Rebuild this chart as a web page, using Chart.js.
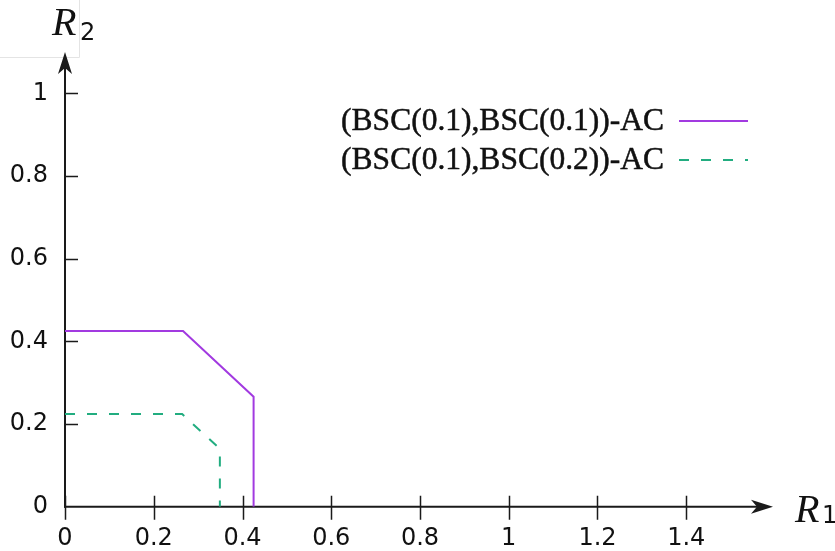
<!DOCTYPE html>
<html>
<head>
<meta charset="utf-8">
<script src="https://cdn.jsdelivr.net/npm/chart.js@4"></script>
<style>
  html, body { margin: 0; padding: 0; background: #fff; }
  canvas { display: block; }
</style>
</head>
<body>
<canvas id="regionChart" width="835" height="551"></canvas>
<script>
// tick labels
const r1Ticks = [0, 0.2, 0.4, 0.6, 0.8, 1, 1.2, 1.4];
const r2Ticks = [0, 0.2, 0.4, 0.6, 0.8, 1];

// series
const seriesLabels = ['(BSC(0.1),BSC(0.1))-AC', '(BSC(0.1),BSC(0.2))-AC'];
const acSameR1 = [0, 0.266, 0.425, 0.425];
const acSameR2 = [0.425, 0.425, 0.266, 0];
const acDiffR1 = [0, 0.264, 0.349, 0.349];
const acDiffR2 = [0.224, 0.224, 0.14, 0];

const toPoints = (xs, ys) => xs.map((v, i) => ({ x: v, y: ys[i] }));

// axes with arrows, inward ticks, R1/R2 labels and the legend on the right
const axisDecor = {
  id: 'axisDecor',
  beforeDatasetsDraw(chart) {
    const { ctx, chartArea: a, scales: { x, y } } = chart;
    const x0 = x.getPixelForValue(0);
    const y0 = y.getPixelForValue(0);
    ctx.save();

    // faint frame line near the R2 label
    ctx.strokeStyle = '#e4e4e4';
    ctx.lineWidth = 1;
    ctx.beginPath();
    ctx.moveTo(0, 57.5); ctx.lineTo(79.5, 57.5); ctx.lineTo(79.5, 0);
    ctx.stroke();

    ctx.strokeStyle = '#1a1a1a';
    ctx.fillStyle = '#1a1a1a';
    ctx.lineWidth = 2;

    // x axis
    const xTip = a.right - 2;
    ctx.beginPath();
    ctx.moveTo(x0 - 1, y0); ctx.lineTo(xTip - 12, y0);
    ctx.stroke();
    ctx.beginPath();
    ctx.moveTo(xTip, y0);
    ctx.lineTo(xTip - 22, y0 - 7);
    ctx.lineTo(xTip - 16, y0);
    ctx.lineTo(xTip - 22, y0 + 7);
    ctx.closePath();
    ctx.fill();

    // y axis
    const yTip = a.top;
    ctx.beginPath();
    ctx.moveTo(x0, y0 + 1); ctx.lineTo(x0, yTip + 12);
    ctx.stroke();
    ctx.beginPath();
    ctx.moveTo(x0, yTip);
    ctx.lineTo(x0 - 7, yTip + 22);
    ctx.lineTo(x0, yTip + 16);
    ctx.lineTo(x0 + 7, yTip + 22);
    ctx.closePath();
    ctx.fill();

    // tick marks
    ctx.lineWidth = 1.5;
    ctx.beginPath();
    r1Ticks.forEach(v => {
      const px = Math.round(x.getPixelForValue(v)) + 0.5;
      ctx.moveTo(px, y0 - 11); ctx.lineTo(px, y0 + 13);
    });
    r2Ticks.forEach(v => {
      if (v === 0) return;
      const py = Math.round(y.getPixelForValue(v)) + 0.5;
      ctx.moveTo(x0, py); ctx.lineTo(x0 + 13, py);
    });
    ctx.stroke();
    ctx.restore();
  },
  afterDraw(chart) {
    const { ctx } = chart;
    ctx.save();
    ctx.fillStyle = '#111';
    ctx.textBaseline = 'alphabetic';

    // axis names
    ctx.textAlign = 'left';
    ctx.font = 'italic 40px "Liberation Serif"';
    ctx.fillText('R', 52, 35);
    ctx.fillText('R', 795, 522);
    ctx.font = '24px "DejaVu Sans"';
    ctx.fillText('2', 80, 40);
    ctx.fillText('1', 822, 523);

    // legend: text on the left, line sample on the right
    ctx.font = '31.5px "Liberation Serif"';
    ctx.textAlign = 'right';
    ctx.textBaseline = 'middle';
    ctx.lineWidth = 0.5;
    chart.data.datasets.forEach((ds, i) => {
      const yy = 121 + i * 39;
      ctx.fillStyle = '#111';
      ctx.strokeStyle = '#111';
      ctx.setLineDash([]);
      ctx.fillText(ds.label, 664, yy + 1);
      ctx.strokeText(ds.label, 664, yy + 1);
      ctx.save();
      ctx.strokeStyle = ds.borderColor;
      ctx.lineWidth = ds.borderWidth;
      ctx.setLineDash(ds.borderDash || []);
      ctx.beginPath();
      ctx.moveTo(679, yy); ctx.lineTo(748, yy);
      ctx.stroke();
      ctx.restore();
    });
    ctx.restore();
  }
};

const ctx = document.getElementById('regionChart').getContext('2d');
new Chart(ctx, {
  type: 'scatter',
  data: {
    datasets: [
      {
        label: seriesLabels[0],
        data: toPoints(acSameR1, acSameR2),
        showLine: true,
        borderColor: '#a23ae0',
        borderWidth: 2,
        pointRadius: 0,
        tension: 0
      },
      {
        label: seriesLabels[1],
        data: toPoints(acDiffR1, acDiffR2),
        showLine: true,
        borderColor: '#22ad80',
        borderWidth: 2,
        borderDash: [10, 12],
        pointRadius: 0,
        tension: 0
      }
    ]
  },
  options: {
    responsive: false,
    devicePixelRatio: 1,
    animation: false,
    layout: { padding: { top: 52, right: 60, left: 0, bottom: 0 } },
    plugins: {
      legend: { display: false },
      tooltip: { enabled: false }
    },
    scales: {
      x: {
        type: 'linear',
        min: 0,
        max: 1.6,
        border: { display: false },
        grid: { display: false, drawTicks: false },
        afterBuildTicks: s => { s.ticks = r1Ticks.map(v => ({ value: v })); },
        afterFit: s => { s.height = 44.3; },
        ticks: {
          padding: 18,
          maxRotation: 0,
          autoSkip: false,
          color: '#111',
          font: { family: '"DejaVu Sans"', size: 24 },
          callback: v => String(v)
        }
      },
      y: {
        type: 'linear',
        min: 0,
        max: 1.1,
        border: { display: false },
        grid: { display: false, drawTicks: false },
        afterBuildTicks: s => { s.ticks = r2Ticks.map(v => ({ value: v })); },
        afterFit: s => { s.width = 65; },
        ticks: {
          padding: 17,
          autoSkip: false,
          color: '#111',
          font: { family: '"DejaVu Sans"', size: 24 },
          callback: v => String(v)
        }
      }
    }
  },
  plugins: [axisDecor]
});
</script>
</body>
</html>
